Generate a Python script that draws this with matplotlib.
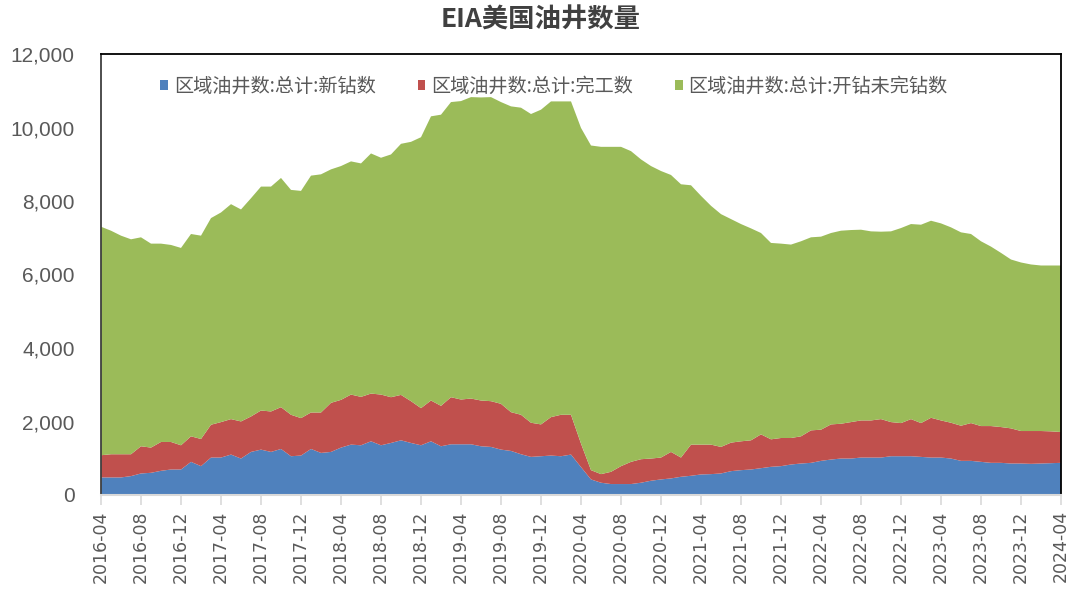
import matplotlib
matplotlib.use("Agg")
import matplotlib.pyplot as plt
import numpy as np
import pandas as pd
from matplotlib.ticker import FuncFormatter

plt.rcParams["font.family"] = ["Noto Sans CJK SC", "DejaVu Sans"]

# 月份 2016-04 ~ 2024-04
months = pd.date_range("2016-04-01", "2024-04-01", freq="MS").strftime("%Y-%m").tolist()

# 区域油井数:总计:新钻数
drilled = [478, 478, 478, 514, 586, 604, 658, 694, 694, 902, 785, 1019, 1019, 1100, 992, 1172,
           1235, 1172, 1253, 1055, 1073, 1253, 1145, 1172, 1290, 1371, 1353, 1461, 1353, 1416,
           1488, 1416, 1353, 1461, 1326, 1380, 1380, 1380, 1326, 1308, 1235, 1199, 1109, 1037,
           1055, 1073, 1055, 1100, 760, 424, 334, 298, 298, 298, 334, 388, 424, 451, 496, 523,
           559, 568, 586, 649, 676, 694, 730, 767, 785, 830, 857, 875, 929, 965, 992, 992, 1019,
           1019, 1019, 1055, 1055, 1055, 1037, 1019, 1019, 992, 929, 929, 902, 875, 875, 857,
           857, 848, 857, 866, 875]

# 区域油井数:总计:完工数
completed = [604, 631, 631, 595, 740, 686, 785, 749, 659, 695, 739, 893, 965, 965, 1010, 965,
             1064, 1101, 1137, 1128, 1019, 992, 1100, 1336, 1299, 1362, 1317, 1299, 1380, 1245,
             1236, 1137, 1010, 1110, 1100, 1281, 1218, 1245, 1245, 1245, 1246, 1055, 1074, 929,
             866, 1046, 1128, 1083, 640, 252, 234, 333, 487, 604, 640, 604, 595, 721, 523, 848,
             812, 803, 722, 776, 785, 794, 920, 748, 766, 721, 740, 884, 848, 956, 947, 992,
             1010, 1010, 1046, 929, 902, 1010, 920, 1082, 1010, 974, 956, 1028, 974, 1001, 974,
             956, 884, 893, 884, 866, 839]

# 区域油井数:总计:开钻未完钻数
duc = [6218, 6083, 5948, 5849, 5686, 5550, 5397, 5361, 5370, 5505, 5533, 5623, 5704, 5849,
       5768, 5939, 6093, 6119, 6237, 6119, 6183, 6445, 6481, 6353, 6362, 6345, 6353, 6534,
       6444, 6606, 6832, 7057, 7373, 7733, 7923, 8031, 8121, 8202, 8247, 8274, 8211, 8321,
       8356, 8401, 8564, 8591, 8527, 8527, 8589, 8834, 8906, 8843, 8689, 8455, 8158, 7959,
       7797, 7536, 7436, 7057, 6769, 6498, 6335, 6083, 5912, 5767, 5479, 5344, 5289, 5263,
       5307, 5253, 5253, 5208, 5253, 5226, 5190, 5145, 5100, 5190, 5307, 5308, 5398, 5362,
       5362, 5317, 5262, 5145, 5028, 4883, 4739, 4595, 4586, 4532, 4504, 4513, 4531]

labels = ["区域油井数:总计:新钻数", "区域油井数:总计:完工数", "区域油井数:总计:开钻未完钻数"]
colors = ["#4F81BD", "#C0504D", "#9BBB59"]

x = np.arange(len(months))

fig = plt.figure(figsize=(10.7, 6.04), dpi=100)
ax = fig.add_axes([101 / 1070, 1 - 495 / 604, 960 / 1070, 441 / 604])

ax.stackplot(x, drilled, completed, duc, colors=colors, labels=labels, linewidth=0)

ax.set_xlim(0, len(months) - 1)
ax.set_ylim(0, 12000)
ax.set_yticks(np.arange(0, 12001, 2000))
ax.yaxis.set_major_formatter(FuncFormatter(lambda v, p: f"{int(v):,}"))
ax.tick_params(axis="y", length=0, pad=19, labelsize=15, labelcolor="#595959")
for t in ax.get_yticklabels():
    t.set_family(["Liberation Sans", "DejaVu Sans"])

tick_idx = x[::4]
ax.set_xticks(tick_idx)
ax.set_xticklabels([months[i] for i in tick_idx], rotation=90, fontsize=12.5,
                   color="#595959", family="DejaVu Sans")
ax.tick_params(axis="x", length=7, color="#D9D9D9", width=1.2, pad=4)

for side in ["top", "right", "left"]:
    ax.spines[side].set_color("black")
    ax.spines[side].set_linewidth(1.3)
ax.spines["left"].set_color("#404040")
ax.spines["bottom"].set_color("#D9D9D9")
ax.spines["bottom"].set_linewidth(1.5)

fig.suptitle("EIA美国油井数量", x=541 / 1070, y=1 - 20 / 604, va="center",
             fontsize=19, fontweight="bold", color="#404040")

ax.legend(loc="upper left", bbox_to_anchor=((143 - 101) / 960, 0.99), ncol=3,
          frameon=False, fontsize=13.8, handlelength=0.4, handleheight=0.4,
          handletextpad=0.3, columnspacing=2.2, labelcolor="#595959")

fig.savefig("out.png", dpi=100)
